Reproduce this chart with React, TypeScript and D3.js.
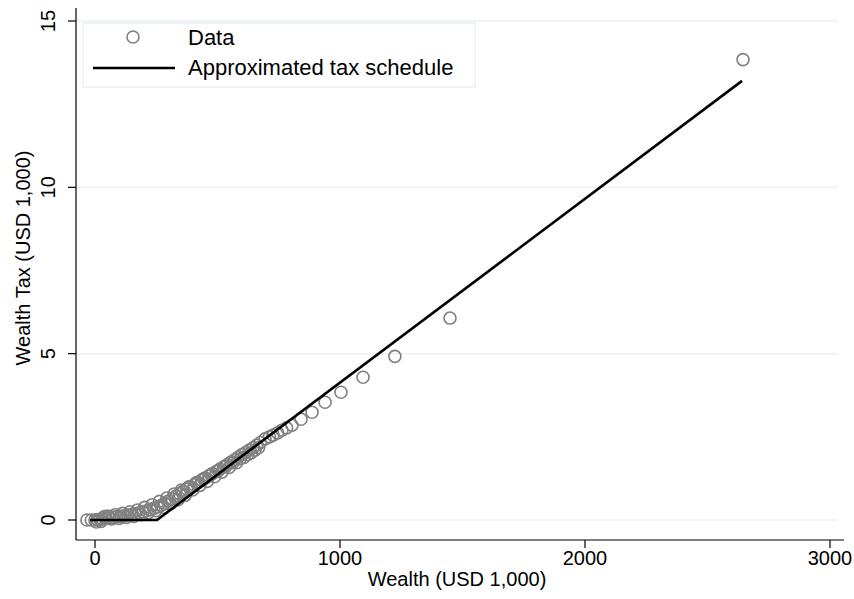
import React from "react";
import * as d3 from "d3";

const wealth = [-33, -15, 0, 10, 20, 30, 45, 60, 75, 90, 105, 120, 135, 150, 165, 180, 195, 210, 225, 240, 255, 270, 285, 300, 315, 330, 345, 360, 375, 390, 405, 420, 435, 450, 465, 480, 495, 510, 525, 540, 555, 570, 585, 600, 615, 630, 645, 660, 675, 694, 712, 727, 745, 763, 782, 804, 841, 886, 939, 1004, 1094, 1224, 1449, 2645,
  5, 25, 38, 52, 68, 83, 98, 113, 128, 143, 158, 173, 188, 203, 218, 233, 248, 263, 278, 293, 308, 323, 338, 353, 368, 383, 398, 413, 428, 443, 458, 473, 488, 503, 518, 533, 548, 563, 578, 593, 608, 623, 638, 653, 668];
const tax = [0, 0, 0, 0.01, 0.02, 0.03, 0.05, 0.06, 0.08, 0.1, 0.11, 0.13, 0.15, 0.17, 0.19, 0.22, 0.24, 0.28, 0.31, 0.35, 0.39, 0.44, 0.5, 0.57, 0.64, 0.72, 0.79, 0.86, 0.93, 1.0, 1.06, 1.13, 1.2, 1.26, 1.33, 1.4, 1.46, 1.53, 1.6, 1.67, 1.74, 1.81, 1.89, 1.97, 2.03, 2.1, 2.17, 2.25, 2.33, 2.44, 2.5, 2.55, 2.62, 2.7, 2.77, 2.85, 3.03, 3.24, 3.54, 3.84, 4.29, 4.92, 6.07, 13.84,
  -0.06, -0.04, 0.1, 0.12, 0.03, 0.16, 0.05, 0.2, 0.08, 0.25, 0.11, 0.3, 0.16, 0.38, 0.22, 0.46, 0.28, 0.56, 0.38, 0.66, 0.48, 0.78, 0.6, 0.9, 0.74, 1.0, 0.9, 1.12, 1.04, 1.24, 1.16, 1.36, 1.3, 1.48, 1.44, 1.6, 1.58, 1.72, 1.72, 1.84, 1.88, 1.96, 2.02, 2.1, 2.18];

const scheduleWealth = [-20, 253, 2641];
const scheduleTax = [0, 0, 13.2];

const xTicks = [0, 1000, 2000, 3000];
const yTicks = [0, 5, 10, 15];

const FONT = "'Liberation Sans', Arial, Helvetica, sans-serif";

export default function App() {
  const W = 854, H = 599;
  const x = d3.scaleLinear().domain([0, 3000]).range([95, 830]);
  const y = d3.scaleLinear().domain([0, 15]).range([520, 21]);
  const plotLeft = 76, plotRight = 838, plotBottom = 540, plotTop = 8;

  const pts = wealth.map((w, i) => ({ w, t: tax[i] }));
  const sched = scheduleWealth.map((w, i) => ({ w, t: scheduleTax[i] }));
  const line = d3.line<{ w: number; t: number }>().x(d => x(d.w)).y(d => y(d.t));

  return (
    <svg width={W} height={H} style={{ position: "fixed", left: 0, top: 0, background: "#fff" }} fontFamily={FONT}>
      <rect x={0} y={0} width={W} height={H} fill="#fff" />
      {yTicks.map(t => (
        <line key={"g" + t} x1={plotLeft} x2={plotRight} y1={y(t)} y2={y(t)} stroke="#eaf2f3" strokeWidth={1.5} />
      ))}
      <line x1={plotLeft} x2={plotLeft} y1={plotTop} y2={plotBottom} stroke="#000" strokeWidth={1.2} />
      <line x1={plotLeft} x2={844} y1={plotBottom} y2={plotBottom} stroke="#000" strokeWidth={1.2} />
      {yTicks.map(t => (
        <g key={"y" + t}>
          <line x1={68} x2={plotLeft} y1={y(t)} y2={y(t)} stroke="#000" strokeWidth={1.2} />
          <text transform={`translate(55,${y(t)}) rotate(-90)`} textAnchor="middle" fontSize={20} fill="#000">{t}</text>
        </g>
      ))}
      {xTicks.map(t => (
        <g key={"x" + t}>
          <line x1={x(t)} x2={x(t)} y1={plotBottom} y2={548} stroke="#000" strokeWidth={1.2} />
          <text x={x(t)} y={565} textAnchor="middle" fontSize={20} fill="#000">{t}</text>
        </g>
      ))}
      <text x={457} y={586} textAnchor="middle" fontSize={20} fill="#000">Wealth (USD 1,000)</text>
      <text transform="translate(30,258) rotate(-90)" textAnchor="middle" fontSize={20} fill="#000">Wealth Tax (USD 1,000)</text>

      {pts.map((p, i) => (
        <circle key={i} cx={x(p.w)} cy={y(p.t)} r={6} fill="none" stroke="#808080" strokeWidth={1.6} />
      ))}
      <path d={line(sched) || ""} fill="none" stroke="#000" strokeWidth={2.6} />

      <rect x={83} y={23} width={392} height={64} fill="#fff" stroke="#e3eaec" strokeWidth={1} />
      <circle cx={133} cy={37} r={6} fill="none" stroke="#808080" strokeWidth={1.6} />
      <text x={188} y={45} fontSize={22} fill="#000">Data</text>
      <line x1={93} x2={175} y1={68} y2={68} stroke="#000" strokeWidth={2.6} />
      <text x={188} y={75} fontSize={22} fill="#000">Approximated tax schedule</text>
    </svg>
  );
}
